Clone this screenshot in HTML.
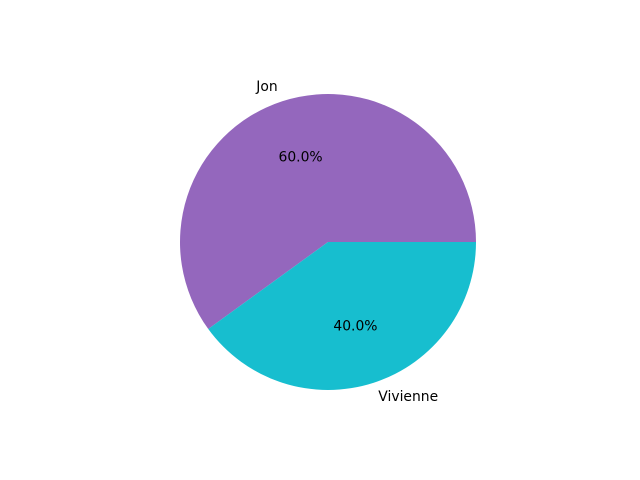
<!DOCTYPE html>
<html><head><meta charset="utf-8"><style>body{margin:0;background:#fff}svg{display:block}</style></head>
<body>
<svg id="chart" width="640" height="480" xmlns="http://www.w3.org/2000/svg" font-family="DejaVu Sans, sans-serif" font-size="13.9"></svg>
<script>
const labels = ["Jon", "Vivienne"];
const values = [60, 40];
const colors = ["#9467bd", "#17becf"];
const svg = document.getElementById('chart');
const NS = "http://www.w3.org/2000/svg";
const cx = 328, cy = 242, r = 148;
const total = values.reduce((a,b)=>a+b,0);
let start = 0;
function pt(deg, rr){ const a = deg*Math.PI/180; return [cx + rr*Math.cos(a), cy - rr*Math.sin(a)]; }
values.forEach((v,i)=>{
  const sweep = v/total*360, end = start + sweep;
  const [x1,y1] = pt(start,r), [x2,y2] = pt(end,r);
  const p = document.createElementNS(NS,'path');
  p.setAttribute('d', `M${cx},${cy} L${x1},${y1} A${r},${r} 0 ${sweep>180?1:0} 0 ${x2},${y2} Z`);
  p.setAttribute('fill', colors[i]);
  
  
  svg.appendChild(p);
  const mid = start + sweep/2;
  const [lx,ly] = pt(mid, r*1.1);
  const t = document.createElementNS(NS,'text');
  t.setAttribute('x', lx); t.setAttribute('y', ly);
  t.setAttribute('dominant-baseline','central');
  t.setAttribute('text-anchor', Math.cos(mid*Math.PI/180) < 0 ? 'end' : 'start');
  t.textContent = labels[i];
  
  
  svg.appendChild(t);
  const [px,py] = pt(mid, r*0.6);
  const q = document.createElementNS(NS,'text');
  q.setAttribute('x', px); q.setAttribute('y', py);
  q.setAttribute('dominant-baseline','central');
  q.setAttribute('text-anchor','middle');
  q.textContent = (v/total*100).toFixed(1) + '%';
  
  
  svg.appendChild(q);
  start = end;
});
</script>
</body></html>
